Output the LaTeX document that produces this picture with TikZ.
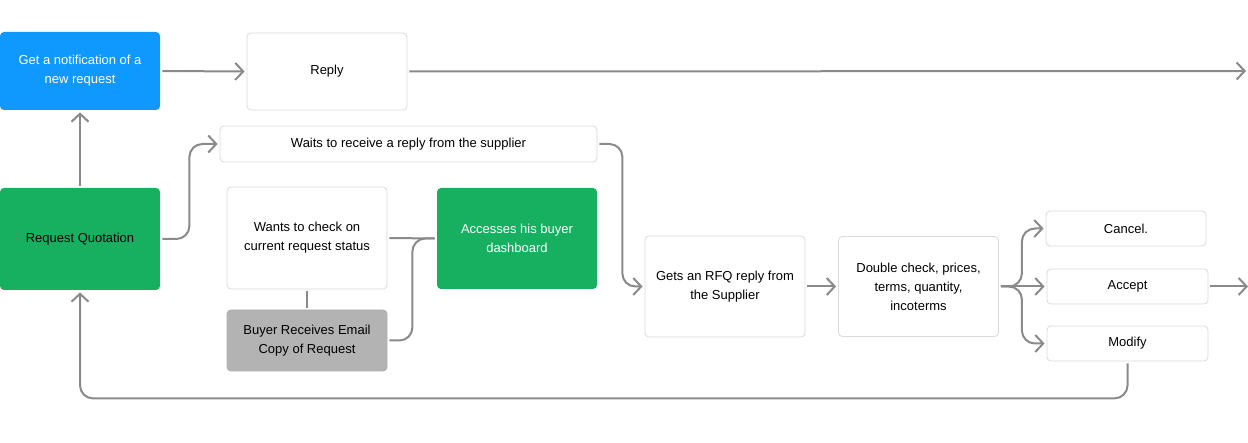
\documentclass[tikz,border=0pt]{standalone}
\usepackage{fontspec}
\setmainfont{Liberation Sans}
\usetikzlibrary{positioning,arrows.meta}
\definecolor{notifblue}{HTML}{0F99FF}
\definecolor{okgreen}{HTML}{16B060}
\definecolor{mailgray}{HTML}{B3B3B3}
\definecolor{boxline}{HTML}{DADADA}
\definecolor{flowgray}{HTML}{8A8A8A}
\tikzset{
  box/.style={draw=boxline, fill=white, line width=0.8pt, rounded corners=4pt,
    align=center, inner sep=0pt, minimum width=160pt,
    font=\fontsize{13}{19}\selectfont},
  bluebox/.style={box, draw=none, fill=notifblue, text=white},
  greenbox/.style={box, draw=none, fill=okgreen},
  graybox/.style={box, draw=boxline!80!black, fill=mailgray},
  flow/.style={draw=flowgray, line width=2pt, rounded corners=13pt,
    shorten <=2pt, shorten >=2pt},
  tip/.style={flow, -{Straight Barb[length=8pt,width=17pt]}}
}
\begin{document}
\begin{tikzpicture}[x=1pt,y=-1pt]
\useasboundingbox (0,0) rectangle (1248,443);
\node[bluebox, minimum height=78pt] (notif) at (80,71) {Get a notification of a\\new request};
\node[box, minimum height=77pt] (reply) at (327,71.5) {Reply};
\node[box, minimum width=377pt, minimum height=36pt] (wait) at (408.5,144) {Waits to receive a reply from the supplier};
\node[greenbox, minimum height=102pt] (reqq) at (80,239) {Request Quotation};
\node[box, minimum height=102pt] (check) at (307,238) {Wants to check on\\current request status};
\node[greenbox, text=white, minimum height=101pt] (dash) at (517,238.5) {Accesses his buyer\\dashboard};
\node[graybox, minimum height=61pt] (email) at (307,340.5) {Buyer Receives Email\\Copy of Request};
\node[box, minimum height=101pt] (rfq) at (725,286.5) {Gets an RFQ reply from\\the Supplier};
\node[box, minimum height=100pt] (dbl) at (918.5,286.5) {Double check, prices,\\terms, quantity,\\incoterms};
\node[box, minimum height=35pt] (cancel) at (1126,228.5) {Cancel.};
\node[box, minimum width=161pt, minimum height=35pt] (accept) at (1127.5,286.5) {Accept};
\node[box, minimum width=161pt, minimum height=35pt] (modify) at (1127.5,343.5) {Modify};
\coordinate (replyend) at (1248,71);
\coordinate (acceptend) at (1250,286.5);

\draw[tip] (notif.east) -- (reply.west);
\draw[tip] (reply.east) -- (replyend);
\draw[tip] (reqq.north) -- (notif.south);
\draw[tip] (reqq.east) -- ++(29,0) |- (wait.west);
\draw[tip] (wait.east) -- ++(25,0) |- (rfq.west);
\draw[flow] (check.east) -- (dash.west);
\draw[flow] (email.east) -- ++(25,0) |- (dash.west);
\draw[flow] (check.south) -- (email.north);
\draw[tip] (rfq.east) -- (dbl.west);
\draw[tip] (dbl.east) -- ++(23,0) |- (cancel.west);
\draw[tip] (dbl.east) -- (accept.west);
\draw[tip] (dbl.east) -- ++(23,0) |- (modify.west);
\draw[tip] (accept.east) -- (acceptend);
\draw[tip] (modify.south) -- ++(0,37) -| (reqq.south);
\end{tikzpicture}
\end{document}
